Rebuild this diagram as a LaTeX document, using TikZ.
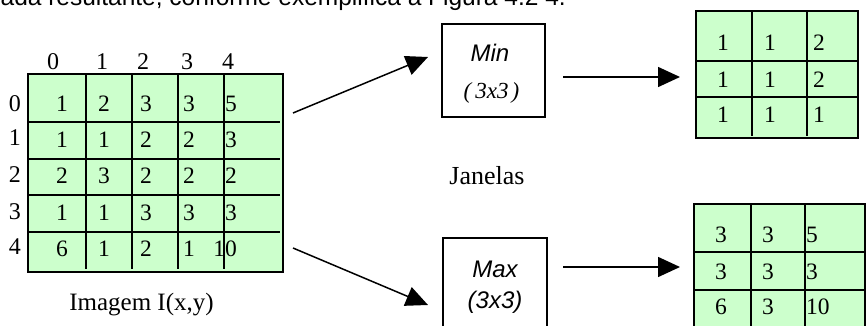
\documentclass[tikz,border=0pt]{standalone}
\usepackage{fontspec}
\setmainfont{Liberation Serif}
\newfontfamily\arialfont{Liberation Sans}
\usetikzlibrary{arrows.meta}

\definecolor{cellgreen}{HTML}{CCFFCC}

\tikzset{
  gridline/.style={line width=1.3pt, line cap=rect},
  gridbox/.style={gridline, draw=black, fill=cellgreen},
  num/.style={inner sep=0pt, font=\fontsize{23.5}{24}\selectfont},
  idx/.style={inner sep=0pt, font=\fontsize{24}{25}\selectfont},
  caption/.style={inner sep=0pt, font=\fontsize{25}{26}\selectfont},
  opbox/.style={draw, line width=1.1pt},
  optext/.style={inner sep=0pt, font=\arialfont\itshape\fontsize{24}{25}\selectfont},
  conn/.style={line width=1.5pt, -{Triangle[length=22pt,width=20pt]}}
}

\begin{document}
\begin{tikzpicture}[x=1pt, y=-1pt]
\useasboundingbox (0,0) rectangle (866,326);
\clip (0,0) rectangle (866,326);

% running text of the page above the figure
\node[anchor=base east, inner sep=0pt, font=\arialfont\fontsize{24.5}{26}\selectfont]
  (pagetext) at (566,6) {dada resultante, conforme exemplifica a Figura 4.2 4.};

% ---- input image I(x,y), 5x5 ----
\path[gridbox] (28,74) rectangle (283,272);
\foreach \x in {86,132,178,224} \draw[gridline] (\x,74) -- (\x,268);
\foreach \y in {122,159,195,232} \draw[gridline] (28,\y) -- (279,\y);
\node[draw=none, minimum width=255pt, minimum height=198pt, inner sep=0pt] (img) at (155.5,173) {};

% column and row indices
\foreach \c/\x in {0/53,1/102,2/143,3/187,4/228}
  \node[idx] (col\c) at (\x,62) {\c};
\foreach \r/\y in {0/104,1/138,2/175,3/212,4/247}
  \node[idx] (row\r) at (15,\y) {\r};

% cell values (columns 0-3 centred, column 4 right aligned)
\foreach \r/\y/\a/\b/\c/\d/\e in {0/104/1/2/3/3/5, 1/140/1/1/2/2/3, 2/176/2/3/2/2/2,
                                  3/213/1/1/3/3/3, 4/249/6/1/2/1/10}{
  \node[num] (i\r a) at (62,\y) {\a};
  \node[num] (i\r b) at (104,\y) {\b};
  \node[num] (i\r c) at (146,\y) {\c};
  \node[num] (i\r d) at (189,\y) {\d};
  \node[num, anchor=east] (i\r e) at (237,\y) {\e};
}
\node[caption] (imgcap) at (141.5,305) {Imagem I(x,y)};

% ---- window operators ----
\node[opbox, minimum width=103pt, minimum height=93pt, inner sep=0pt] (minbox) at (493.5,70.5) {};
\node[optext] (mintxt) at (490,52.5) {Min};
\node[inner sep=0pt, font=\itshape\fontsize{23}{24}\selectfont] (minsz) at (491.5,93)
  {(\hspace{4pt}3x3\hspace{3pt})};

\node[opbox, minimum width=104pt, minimum height=104pt, inner sep=0pt] (maxbox) at (495,290) {};
\node[optext] (maxtxt) at (495,269) {Max};
\node[optext] (maxsz) at (495,302.5) {(3x3)};

\node[inner sep=0pt, font=\fontsize{26}{27}\selectfont] (janelas) at (487,176) {Janelas};

% ---- result of Min, 3x3 ----
\path[gridbox] (696,11) rectangle (858,138);
\foreach \x in {752,807} \draw[gridline] (\x,11) -- (\x,135);
\foreach \y in {61,97} \draw[gridline] (696,\y) -- (858,\y);
\node[draw=none, minimum width=162pt, minimum height=127pt, inner sep=0pt] (mingrid) at (777,74.5) {};
\foreach \r/\y/\a/\b/\c in {0/43/1/1/2, 1/80/1/1/2, 2/115/1/1/1}{
  \node[num] (n\r a) at (723,\y) {\a};
  \node[num] (n\r b) at (770,\y) {\b};
  \node[num, anchor=west] (n\r c) at (813,\y) {\c};
}

% ---- result of Max, 3x3 ----
\path[gridbox] (694,204) rectangle (865,345);
\foreach \x in {751,805} \draw[gridline] (\x,204) -- (\x,345);
\foreach \y in {252,290} \draw[gridline] (694,\y) -- (863,\y);
\node[draw=none, minimum width=171pt, minimum height=141pt, inner sep=0pt] (maxgrid) at (779.5,274.5) {};
\foreach \r/\y/\a/\b/\c in {0/235/3/3/5, 1/272/3/3/3, 2/307/6/3/10}{
  \node[num] (x\r a) at (721,\y) {\a};
  \node[num] (x\r b) at (768,\y) {\b};
  \node[num, anchor=west] (x\r c) at (806,\y) {\c};
}

% ---- connectors ----
\coordinate (upstart) at (293,113);
\coordinate (upend) at (428,57);
\coordinate (lowstart) at (293,248);
\coordinate (lowend) at (428,305);
\coordinate (minout) at (563,77);
\coordinate (minin) at (680,77);
\coordinate (maxout) at (563,267);
\coordinate (maxin) at (680,267);

\draw[conn] (upstart) -- (upend);
\draw[conn] (lowstart) -- (lowend);
\draw[conn] (minout) -- (minin);
\draw[conn] (maxout) -- (maxin);
\end{tikzpicture}
\end{document}
